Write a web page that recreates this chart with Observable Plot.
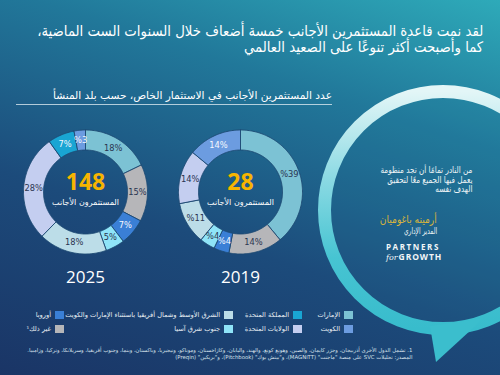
<!DOCTYPE html>
<html lang="ar">
<head>
<meta charset="utf-8">
<script src="https://cdn.jsdelivr.net/npm/d3@7"></script>
<script src="https://cdn.jsdelivr.net/npm/@observablehq/plot@0.6"></script>
<style>
  html, body { margin: 0; padding: 0; }
  body { width: 500px; height: 375px; overflow: hidden; font-family: "DejaVu Sans", "Noto Sans", sans-serif; }
  #page {
    position: relative; width: 500px; height: 375px; overflow: hidden;
    background: linear-gradient(18deg, #1a3566 0%, #1c4b7b 38%, #21789a 72%, #2eaab9 100%);
  }
  #chart { position: absolute; left: 0; top: 0; }
  .abs { position: absolute; direction: rtl; color: #fff; white-space: nowrap; transform-origin: right top; }
  #title { right: 17px; top: 23px; font-size: 14.5px; line-height: 16px; text-align: right; }
  #subtitle { right: 168px; top: 89px; font-size: 10.5px; }
  #rule { position: absolute; left: 16px; width: 316px; top: 104px; height: 1px; background: rgba(230,240,245,0.75); }
  #quote { right: 28px; top: 166px; font-size: 9px; line-height: 9.5px; text-align: right; color: #eef4f6; }
  #name { right: 63px; top: 213px; font-size: 11px; color: #d8b53c; }
  #role { right: 63px; top: 226px; font-size: 9px; color: #eef4f6; }
  #logo { position: absolute; left: 386px; top: 242px; color: #f2f6f8; font-family: "Open Sans", sans-serif; font-weight: 700; }
  #logo .l1 { font-size: 8px; letter-spacing: 1.6px; line-height: 10px; }
  #logo .l2 { font-size: 8.5px; letter-spacing: 0.9px; line-height: 10px; }
  #logo .l2 i { font-family: "DejaVu Serif", serif; font-weight: 400; font-size: 8px; letter-spacing: 0; margin-right: 1px; }
  #legend { position: absolute; right: 147px; top: 310px; direction: rtl; display: grid;
    grid-template-columns: 51px 69px 169px 60px; row-gap: 5px; font-size: 7px; color: #e8eef3; }
  #legend .item { display: flex; align-items: center; gap: 4px; white-space: nowrap; height: 9px; }
  #legend .sw { width: 9px; height: 8px; flex: none; }
  #foot { right: 88px; top: 347px; font-size: 5.4px; line-height: 7px; text-align: right; color: #d5e0ea; }
</style>
</head>
<body>
<div id="page">
  <div id="chart"></div>
  <div class="abs" id="title"></div>
  <div class="abs" id="subtitle"></div>
  <div id="rule"></div>
  <div class="abs" id="quote"></div>
  <div class="abs" id="name"></div>
  <div class="abs" id="role"></div>
  <div id="logo"><div class="l1">PARTNERS</div><div class="l2"><i>for</i>GROWTH</div></div>
  <div id="legend"></div>
  <div class="abs" id="foot"></div>
</div>
<script>
// ---- Text content ----
const titleLines = [
  "لقد نمت قاعدة المستثمرين الأجانب خمسة أضعاف خلال السنوات الست الماضية،",
  "كما وأصبحت أكثر تنوعًا على الصعيد العالمي"
];
const subtitle = "عدد المستثمرين الأجانب في الاستثمار الخاص، حسب بلد المنشأ";
const quoteLines = ["من النادر تمامًا أن تجد منظومة", "يعمل فيها الجميع معًا لتحقيق", "الهدف نفسه"];
const quoteName = "أرمينه باغوميان";
const quoteRole = "المدير الإداري";
const footLines = [
  "1. تشمل الدول الأخرى أذربيجان، وجزر كايمان، والصين، وهونغ كونغ، والهند، واليابان، وكازاخستان، وموناكو، ونيجيريا، وباكستان، وبنما، وجنوب أفريقيا، وسريلانكا، وتركيا، وزامبيا.",
  "المصدر: تحليلات SVC على منصة \"ماجنت\" (MAGNiTT)، و\"بيتش بوك\" (Pitchbook)، و\"بريكين\" (Preqin)"
];
const centerCaption = "المستثمرون الأجانب";

// ---- Categories (legend order, row by row from the right) ----
const categories = [
  "الإمارات", "المملكة المتحدة", "الشرق الأوسط وشمال أفريقيا باستثناء الإمارات والكويت", "أوروبا",
  "الكويت", "الولايات المتحدة", "جنوب شرق آسيا", "غير ذلك¹"
];
const categoryColors = ["#7cc2d4", "#19a5d3", "#bcdde8", "#3a7fd6", "#6c9ce0", "#c4cef0", "#8fe4f8", "#b6b6b9"];
const darkSlices = ["المملكة المتحدة", "أوروبا", "الكويت"];

// ---- Donut data, clockwise from 12 o'clock ----
const years = ["2025", "2019"];
const totals = [148, 28];
const slices2025 = ["الإمارات", "غير ذلك¹", "أوروبا", "جنوب شرق آسيا", "الشرق الأوسط وشمال أفريقيا باستثناء الإمارات والكويت", "الولايات المتحدة", "المملكة المتحدة", "الكويت"];
const values2025 = [18, 15, 7, 5, 18, 28, 7, 3];
const percentFirst2025 = [false, false, false, false, false, false, false, true];
const slices2019 = ["الإمارات", "غير ذلك¹", "أوروبا", "جنوب شرق آسيا", "الشرق الأوسط وشمال أفريقيا باستثناء الإمارات والكويت", "الولايات المتحدة", "الكويت"];
const values2019 = [39, 14, 4, 4, 11, 14, 14];
const percentFirst2019 = [true, false, true, true, true, false, false];

// ---- Layout ----
const W = 500, H = 375;
const centersX = [85, 240];
const centerY = 191.5;
const rOuter = 62, rInner = 42;

const donuts = [
  {year: years[0], total: totals[0], cx: centersX[0], cats: slices2025, vals: values2025, pf: percentFirst2025},
  {year: years[1], total: totals[1], cx: centersX[1], cats: slices2019, vals: values2019, pf: percentFirst2019}
];

// Build slice outlines (outer arc forward, inner arc back) and label anchors
const outline = [];
const labels = [];
donuts.forEach(d => {
  const sum = d3.sum(d.vals);
  let acc = 0;
  d.vals.forEach((v, i) => {
    const a0 = acc / sum * 2 * Math.PI;
    acc += v;
    const a1 = acc / sum * 2 * Math.PI;
    const id = d.year + "-" + i;
    const steps = Math.max(4, Math.ceil((a1 - a0) / 0.02));
    const pts = [];
    for (let k = 0; k <= steps; k++) {
      const a = a0 + (a1 - a0) * k / steps;
      pts.push([d.cx + rOuter * Math.sin(a), centerY - rOuter * Math.cos(a)]);
    }
    for (let k = steps; k >= 0; k--) {
      const a = a0 + (a1 - a0) * k / steps;
      pts.push([d.cx + rInner * Math.sin(a), centerY - rInner * Math.cos(a)]);
    }
    pts.push(pts[0]);
    pts.forEach(p => outline.push({id, cat: d.cats[i], x: p[0], y: p[1]}));
    const am = (a0 + a1) / 2, rm = (rOuter + rInner) / 2;
    labels.push({
      cat: d.cats[i],
      x: d.cx + rm * Math.sin(am),
      y: centerY - rm * Math.cos(am),
      text: d.pf[i] ? "%" + v : v + "%"
    });
  });
});

// Speech-bubble ring and tail behind the quote
function bubble(index, scales) {
  const ns = "http://www.w3.org/2000/svg";
  const g = document.createElementNS(ns, "g");
  const sx = scales.x, sy = scales.y;
  g.innerHTML = `
    <defs>
      <linearGradient id="ringGrad" x1="0" y1="0" x2="0" y2="1">
        <stop offset="0" stop-color="#e3f6f7"/>
        <stop offset="0.35" stop-color="#8fdbe4"/>
        <stop offset="0.7" stop-color="#47c4d2"/>
        <stop offset="1" stop-color="#38bccc"/>
      </linearGradient>
    </defs>
    <circle cx="${sx(443)}" cy="${sy(210)}" r="${sx(118.5) - sx(0)}" fill="rgba(40,140,170,0.10)" stroke="url(#ringGrad)" stroke-width="13"/>
    <path d="M${sx(430)},${sy(326)} L${sx(436)},${sy(362)} L${sx(484)},${sy(318)} Z" fill="#3bbecd"/>`;
  return g;
}

const chart = Plot.plot({
  width: W, height: H,
  margin: 0,
  x: {domain: [0, W], range: [0, W], axis: null},
  y: {domain: [0, H], range: [0, H], axis: null},
  color: {domain: categories, range: categoryColors},
  style: {background: "transparent", overflow: "visible"},
  marks: [
    bubble,
    Plot.line(outline, {x: "x", y: "y", z: "id", fill: "cat", stroke: "#1d4a73", strokeWidth: 0.9, curve: "linear"}),
    Plot.text(labels.filter(d => !darkSlices.includes(d.cat)), {x: "x", y: "y", text: "text", fill: "#2b3550", fontSize: 8.3, fontFamily: "DejaVu Sans"}),
    Plot.text(labels.filter(d => darkSlices.includes(d.cat)), {x: "x", y: "y", text: "text", fill: "#f4f8ff", fontSize: 8.3, fontFamily: "DejaVu Sans"}),
    Plot.text(donuts, {x: "cx", y: () => centerY - 9, text: d => String(d.total), fill: "#f7b500", fontSize: 23, fontWeight: "bold", fontFamily: "Open Sans"}),
    Plot.text(donuts, {x: "cx", y: () => centerY + 10, text: () => centerCaption, fill: "#ffffff", fontSize: 8, fontFamily: "DejaVu Sans"}),
    Plot.text(donuts, {x: "cx", y: () => 277, text: "year", fill: "#ffffff", fontSize: 17, fontFamily: "Open Sans"})
  ]
});
document.getElementById("chart").append(chart);

// ---- HTML text blocks ----
document.getElementById("title").innerHTML = titleLines.join("<br>");
document.getElementById("subtitle").textContent = subtitle;
document.getElementById("quote").innerHTML = quoteLines.join("<br>");
document.getElementById("name").textContent = quoteName;
document.getElementById("role").textContent = quoteRole;
document.getElementById("foot").innerHTML = footLines.join("<br>");

// ---- Legend, filled from the colour scale ----
const legend = document.getElementById("legend");
const colorOf = chart.scale("color");
let widestLabel = null;
categories.forEach((c, i) => {
  const item = document.createElement("div");
  item.className = "item";
  const sw = document.createElement("span");
  sw.className = "sw";
  sw.style.background = colorOf.range[colorOf.domain.indexOf(c)];
  const t = document.createElement("span");
  t.textContent = c;
  if (i === 2) widestLabel = t;
  item.append(sw, t);
  legend.append(item);
});

// Condense a text block horizontally so its widest line spans the given width
function fitWidth(el, target) {
  const w = el.getBoundingClientRect().width;
  if (w > 0) el.style.transform = `scaleX(${(target / w).toFixed(4)})`;
}
// Scale the legend font so its longest entry spans the given width
function fitFont(el, target, measureEl) {
  const fs = parseFloat(getComputedStyle(el).fontSize);
  const w = measureEl.getBoundingClientRect().width;
  if (w > 0) el.style.fontSize = (fs * target / w).toFixed(2) + "px";
}
fitWidth(document.getElementById("title"), 446);
fitWidth(document.getElementById("subtitle"), 279);
fitWidth(document.getElementById("quote"), 92);
fitWidth(document.getElementById("name"), 57);
fitWidth(document.getElementById("role"), 33);
fitWidth(document.getElementById("foot"), 385);
fitFont(legend, 155, widestLabel);
</script>
</body>
</html>
